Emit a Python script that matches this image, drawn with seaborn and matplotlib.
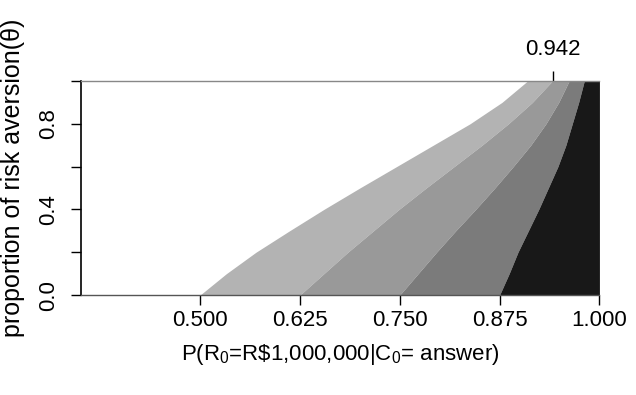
import matplotlib
matplotlib.use("Agg")
import matplotlib.pyplot as plt
import seaborn as sns

# boundaries of the shaded regions at each theta level
theta = [0.0, 0.1, 0.2, 0.3, 0.4, 0.5, 0.6, 0.7, 0.8, 0.9, 1.0]
edge1 = [0.500, 0.533, 0.570, 0.612, 0.655, 0.700, 0.746, 0.792, 0.838, 0.878, 0.910]
edge2 = [0.625, 0.655, 0.685, 0.717, 0.749, 0.783, 0.818, 0.853, 0.886, 0.916, 0.941]
edge3 = [0.750, 0.773, 0.796, 0.820, 0.845, 0.869, 0.892, 0.914, 0.933, 0.949, 0.962]
edge4 = [0.875, 0.887, 0.898, 0.911, 0.924, 0.936, 0.948, 0.958, 0.966, 0.974, 0.981]

x_ticks = [0.500, 0.625, 0.750, 0.875, 1.000]
x_tick_labels = ["0.500", "0.625", "0.750", "0.875", "1.000"]
y_ticks = [0.0, 0.2, 0.4, 0.6, 0.8, 1.0]
y_tick_labels = ["0.0", "", "0.4", "", "0.8", ""]
top_tick = [0.942]
top_tick_labels = ["0.942"]

shades = ["#b3b3b3", "#999999", "#7b7b7b", "#181818"]

sns.set_style("ticks")
plt.rcParams["font.family"] = ["Liberation Sans", "DejaVu Sans"]
plt.rcParams["mathtext.fontset"] = "custom"
plt.rcParams["mathtext.rm"] = "Liberation Sans"
plt.rcParams["mathtext.it"] = "Liberation Sans:italic"
plt.rcParams["text.color"] = "black"
plt.rcParams["axes.labelcolor"] = "black"
plt.rcParams["xtick.color"] = "black"
plt.rcParams["ytick.color"] = "black"

fig = plt.figure(figsize=(6.36, 3.95), dpi=100)
ax = fig.add_axes([0.128, 0.253, 0.8145, 0.542])

x_max = [1.0] * len(theta)
ax.fill_betweenx(theta, edge1, edge2, color=shades[0], lw=0)
ax.fill_betweenx(theta, edge2, edge3, color=shades[1], lw=0)
ax.fill_betweenx(theta, edge3, edge4, color=shades[2], lw=0)
ax.fill_betweenx(theta, edge4, x_max, color=shades[3], lw=0)

ax.set_xlim(0.3515, 1.0)
ax.set_ylim(0, 1)

ax.set_xticks(x_ticks)
ax.set_xticklabels(x_tick_labels)
ax.set_yticks(y_ticks)
ax.set_yticklabels(y_tick_labels, rotation=90, va="center")
ax.tick_params(axis="x", direction="out", length=7, width=1, labelsize=16, pad=4)
ax.tick_params(axis="y", direction="out", length=7, width=1, labelsize=16, pad=9)

sns.despine(ax=ax, right=True, top=False)
ax.spines["left"].set_color("black")
ax.spines["left"].set_linewidth(1.2)
ax.spines["bottom"].set_color("#555555")
ax.spines["bottom"].set_linewidth(1)
ax.spines["top"].set_color("#888888")
ax.spines["top"].set_linewidth(1)

top = ax.secondary_xaxis("top")
top.set_xticks(top_tick)
top.set_xticklabels(top_tick_labels)
top.tick_params(direction="out", length=7, width=1, labelsize=16, pad=8)
top.spines["top"].set_visible(False)

ax.set_xlabel("P(R$_0$=R\\$1,000,000|C$_0$= answer)", fontsize=16, labelpad=8)
ax.set_ylabel("proportion of risk aversion(\u03b8)", fontsize=18)
ax.yaxis.set_label_coords(-0.109, 0.55)

fig.savefig("out.png", dpi=100)
